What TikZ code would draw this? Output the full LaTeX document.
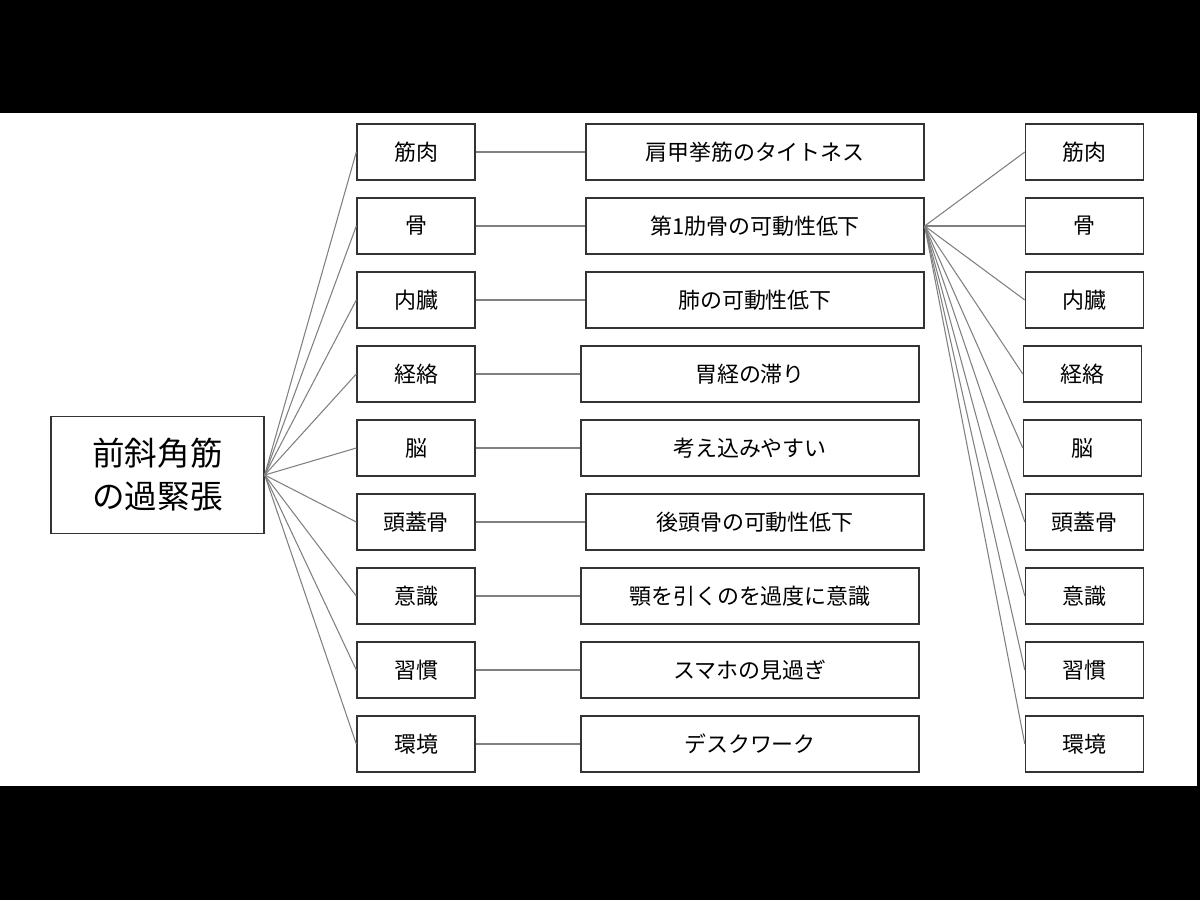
\documentclass[tikz,border=0pt]{standalone}
\usepackage{fontspec}
\setmainfont{Noto Sans CJK JP}
\usetikzlibrary{positioning}

\begin{document}
\begin{tikzpicture}[x=0.02cm, y=-0.02cm, font=\fontsize{12.5}{15}\selectfont,
                    b/.style={draw=black!80, line width=0.8pt, fill=white, inner sep=0pt,
                              minimum height=1.12cm},
                    kind/.style={b, minimum width=2.36cm},
                    cause/.style={b, minimum width=6.76cm},
                    link/.style={gray, line width=0.6pt}]
  \fill[black] (0,0) rectangle (1200,900);
  \fill[white] (0,113) rectangle (1197,786);
  \node[b, minimum width=4.26cm, minimum height=2.34cm, align=center,
        font=\fontsize{18.5}{24.5}\selectfont] (root) at (157.5,475) {前斜角筋\\の過緊張};
  \foreach \i/\y/\mx/\rx/\k/\c in {1/152/755/1084.5/筋肉/肩甲挙筋のタイトネス,
                                  2/226/755/1084.5/骨/第1肋骨の可動性低下,
                                  3/300/755/1084.5/内臓/肺の可動性低下,
                                  4/374/750/1082.5/経絡/胃経の滞り,
                                  5/448/750/1082.5/脳/考え込みやすい,
                                  6/522/755/1084.5/頭蓋骨/後頭骨の可動性低下,
                                  7/596/750/1084.5/意識/顎を引くのを過度に意識,
                                  8/670/750/1084.5/習慣/スマホの見過ぎ,
                                  9/744/750/1084.5/環境/デスクワーク} {
    \node[kind] (k\i) at (416,\y) {\k};
    \node[cause] (c\i) at (\mx,\y) {\c};
    \node[kind] (r\i) at (\rx,\y) {\k};
    \draw[link] (root.east) -- (k\i.west);
    \draw[link] (k\i.east) -- (c\i.west);
  }
  % everything on the right hangs off the rib row
  \foreach \i in {1,...,9} \draw[link] (c2.east) -- (r\i.west);
\end{tikzpicture}
\end{document}
